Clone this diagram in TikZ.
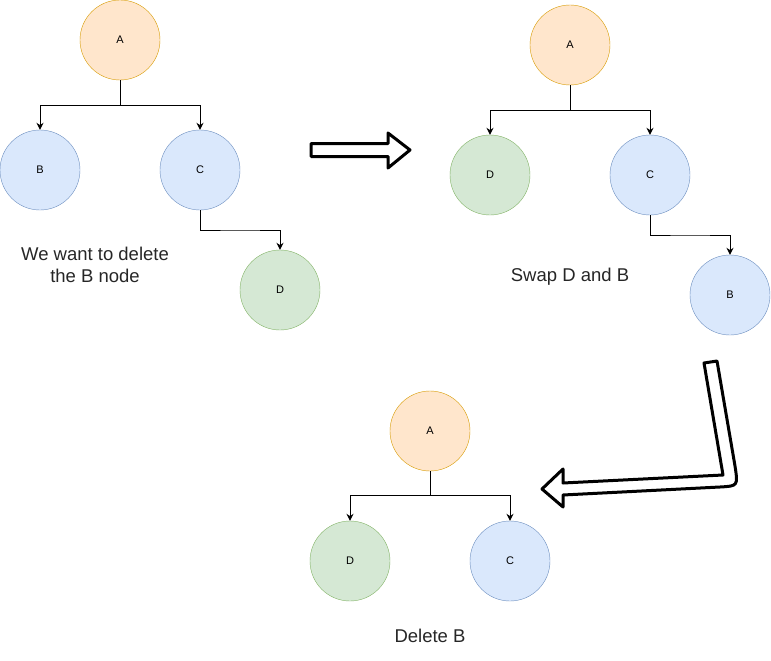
\documentclass[tikz,border=0pt]{standalone}
\usepackage{fontspec}
\setmainfont{Liberation Sans}
\usetikzlibrary{arrows.meta}
\definecolor{orfill}{HTML}{FFE6CC}\definecolor{ordraw}{HTML}{D79B00}
\definecolor{blfill}{HTML}{DAE8FC}\definecolor{bldraw}{HTML}{6C8EBF}
\definecolor{grfill}{HTML}{D5E8D4}\definecolor{grdraw}{HTML}{82B366}
\tikzset{
  tnode/.style={circle,minimum size=80pt,inner sep=0pt,font=\fontsize{11}{13}\selectfont},
  orn/.style={tnode,fill=orfill,draw=ordraw},
  bln/.style={tnode,fill=blfill,draw=bldraw},
  grn/.style={tnode,fill=grfill,draw=grdraw},
  edge/.style={draw=black,line width=1pt,-{Stealth[length=7pt,width=7pt]}},
  caption/.style={font=\fontsize{18.5}{22}\selectfont,align=center,text=black!85},
  blockarrow/.style={draw=black,line width=3pt,fill=white,line join=round}
}
\begin{document}
\begin{tikzpicture}[x=1pt,y=-1pt]
\useasboundingbox (0,0) rectangle (771,661);
% tree 1
\node[orn] (a1) at (120,40) {A};
\node[bln] (b1) at (40,170) {B};
\node[bln] (c1) at (200,170) {C};
\node[grn] (d1) at (280,290) {D};
\draw[edge] (a1.south) |- (120,105) -| (b1.north);
\draw[edge] (a1.south) |- (120,105) -| (c1.north);
\draw[edge] (c1.south) |- (240,230) -| (d1.north);
\node[caption] (t1) at (95,265) {We want to delete\\the B node};
% tree 2
\node[orn] (a2) at (570,45) {A};
\node[grn] (d2) at (490,175) {D};
\node[bln] (c2) at (650,175) {C};
\node[bln] (b2) at (730,295) {B};
\draw[edge] (a2.south) |- (570,110) -| (d2.north);
\draw[edge] (a2.south) |- (570,110) -| (c2.north);
\draw[edge] (c2.south) |- (690,235) -| (b2.north);
\node[caption] (t2) at (570,277) {Swap D and B};
% tree 3
\node[orn] (a3) at (430,431) {A};
\node[grn] (d3) at (350,561) {D};
\node[bln] (c3) at (510,561) {C};
\draw[edge] (a3.south) |- (430,495) -| (d3.north);
\draw[edge] (a3.south) |- (430,495) -| (c3.north);
\node[caption] (t3) at (430,636) {Delete B};
% block arrows
\draw[blockarrow] (311,143.5) -- (388,143.5) -- (388,133) -- (410,150) -- (388,168) -- (388,156.5) -- (311,156.5) -- cycle;
\draw[blockarrow] (704,363) -- (717,361) -- (735,466) .. controls (738,486) .. (720,487) -- (563,495) -- (563,507) -- (542,489) -- (563,469) -- (563,483) -- (723,475) -- cycle;
\end{tikzpicture}
\end{document}
